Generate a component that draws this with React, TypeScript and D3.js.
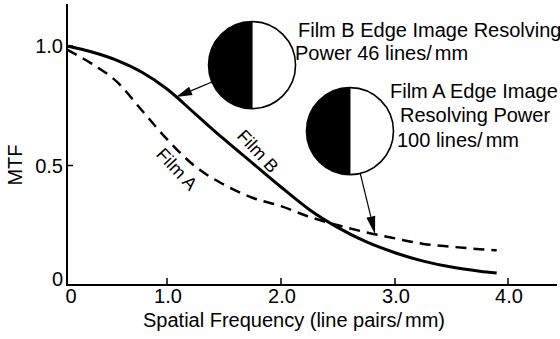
import React from "react";
import * as d3 from "d3";

// ---- data ----
const xTicks = [0, 1, 2, 3, 4];
const xTickLabels = ["0", "1.0", "2.0", "3.0", "4.0"];
const yTicks = [0, 0.5, 1];
const yTickLabels = ["0", "0.5", "1.0"];

const freq = [0, 0.25, 0.5, 0.75, 1.0, 1.25, 1.5, 1.75, 2.0, 2.25, 2.5, 2.75, 3.0, 3.25, 3.5, 3.75, 3.9];
const filmB = [1.0, 0.975, 0.94, 0.89, 0.82, 0.715, 0.61, 0.51, 0.41, 0.315, 0.24, 0.18, 0.135, 0.1, 0.075, 0.058, 0.05];
const filmA = [0.985, 0.925, 0.85, 0.73, 0.61, 0.495, 0.42, 0.365, 0.33, 0.285, 0.25, 0.22, 0.195, 0.172, 0.16, 0.15, 0.145];

// annotation anchors (data units)
const circleB = { x: 1.746, y: 0.92 };
const circleA = { x: 2.605, y: 0.644 };
const arrowBTipX = 1.08;
const arrowATipX = 2.825;

const FONT = "'Liberation Sans', Arial, Helvetica, sans-serif";

export default function App() {
  const W = 560, H = 339;
  const x = d3.scaleLinear().domain(xTicks).range([67, 167, 281, 395, 508]);
  const y = d3.scaleLinear().domain([0, 1]).range([285, 46]);

  const interpB = d3.scaleLinear().domain(freq).range(filmB);
  const interpA = d3.scaleLinear().domain(freq).range(filmA);

  const line = d3
    .line<number>()
    .x((_, i) => x(freq[i]))
    .curve(d3.curveMonotoneX);

  const pathB = line.y((d) => y(d))(filmB) || "";
  const pathA = line.y((d) => y(d))(filmA) || "";

  const R = 43.5;
  const cB = [x(circleB.x), y(circleB.y)];
  const cA = [x(circleA.x), y(circleA.y)];
  const tipB = [x(arrowBTipX), y(interpB(arrowBTipX))];
  const tipA = [x(arrowATipX), y(interpA(arrowATipX))];

  function arrow(c: number[], tip: number[], len: number, hw: number) {
    const dx = tip[0] - c[0], dy = tip[1] - c[1];
    const L = Math.hypot(dx, dy);
    const ux = dx / L, uy = dy / L;
    const start = [c[0] + ux * R, c[1] + uy * R];
    const base = [tip[0] - ux * len, tip[1] - uy * len];
    const px = -uy, py = ux;
    const pts = [
      tip,
      [base[0] + px * hw, base[1] + py * hw],
      [base[0] - px * hw, base[1] - py * hw],
    ];
    return (
      <g>
        <line x1={start[0]} y1={start[1]} x2={base[0]} y2={base[1]} stroke="#000" strokeWidth={1.2} />
        <polygon points={pts.map((p) => p.join(",")).join(" ")} fill="#000" />
      </g>
    );
  }

  function halfCircle(c: number[]) {
    const [cx, cy] = c;
    const d = `M${cx},${cy - R} A${R},${R} 0 0 0 ${cx},${cy + R} Z`;
    return (
      <g>
        <path d={d} fill="#000" />
        <circle cx={cx} cy={cy} r={R} fill="none" stroke="#000" strokeWidth={1.6} />
        <line x1={cx} y1={cy - R} x2={cx} y2={cy + R} stroke="#000" strokeWidth={1} />
      </g>
    );
  }

  return (
    <svg
      width={W}
      height={H}
      style={{ position: "absolute", left: 0, top: 0, background: "#fff" }}
      fontFamily={FONT}
    >
      <rect width={W} height={H} fill="#fff" />
      {/* axes */}
      <line x1={67} y1={4} x2={67} y2={y(0)} stroke="#000" strokeWidth={2} />
      <line x1={66} y1={y(0)} x2={557} y2={y(0)} stroke="#000" strokeWidth={2} />
      {xTicks.slice(1).map((t) => (
        <line key={"xt" + t} x1={x(t)} x2={x(t)} y1={y(0)} y2={y(0) - 7} stroke="#000" strokeWidth={1.5} />
      ))}
      {yTicks.slice(1).map((t) => (
        <line key={"yt" + t} x1={67} x2={73} y1={y(t)} y2={y(t)} stroke="#000" strokeWidth={1.5} />
      ))}
      {xTicks.map((t, i) => (
        <text key={"xl" + t} x={x(t) + (t === 0 ? 4 : 1)} y={303} fontSize={20} textAnchor="middle">
          {xTickLabels[i]}
        </text>
      ))}
      {yTicks.map((t, i) => (
        <text key={"yl" + t} x={63} y={y(t) + (t === 0 ? 1 : 7)} fontSize={20} textAnchor="end">
          {yTickLabels[i]}
        </text>
      ))}
      <text x={294} y={327} fontSize={20} textAnchor="middle">
        Spatial Frequency (line pairs/<tspan dx={3}>mm)</tspan>
      </text>
      <text transform="translate(22,165) rotate(-90)" fontSize={20} textAnchor="middle">
        MTF
      </text>

      {/* curves */}
      <path d={pathA} fill="none" stroke="#000" strokeWidth={2.5} strokeDasharray="11,7" />
      <path d={pathB} fill="none" stroke="#000" strokeWidth={3} />

      {/* curve labels */}
      <text transform="translate(258,151) rotate(47)" fontSize={18} textAnchor="middle" dy="0.35em">
        Film B
      </text>
      <text transform="translate(177,169) rotate(47)" fontSize={18} textAnchor="middle" dy="0.35em">
        Film A
      </text>

      {/* circles & arrows */}
      {halfCircle(cB)}
      {halfCircle(cA)}
      {arrow(cB, tipB, 16, 4.5)}
      {arrow(cA, tipA, 18, 4.5)}

      {/* annotations */}
      <text x={298} y={37} fontSize={20}>Film B Edge Image Resolving</text>
      <text x={295} y={60} fontSize={20}>
        Power 46 lines/<tspan dx={3}>mm</tspan>
      </text>
      <text x={390} y={98} fontSize={20}>Film A Edge Image</text>
      <text x={400} y={122} fontSize={20}>Resolving Power</text>
      <text x={397} y={147} fontSize={20}>
        100 lines/<tspan dx={3}>mm</tspan>
      </text>
    </svg>
  );
}
